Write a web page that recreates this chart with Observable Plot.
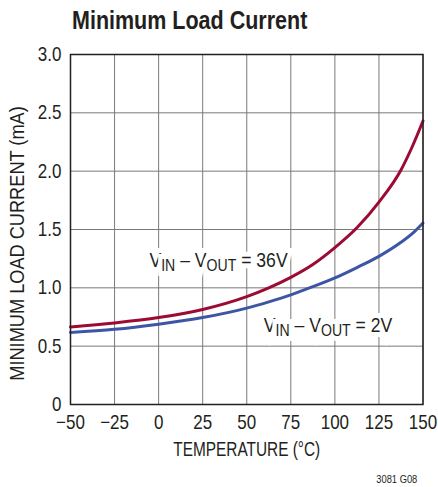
<!DOCTYPE html>
<html>
<head>
<meta charset="utf-8">
<script src="https://cdn.jsdelivr.net/npm/d3@7"></script>
<script src="https://cdn.jsdelivr.net/npm/@observablehq/plot@0.6"></script>
<style>
  html, body { margin: 0; padding: 0; background: #fff; }
  #wrap { position: relative; width: 438px; height: 487px; overflow: hidden;
          font-family: "Liberation Sans", Arial, sans-serif; color: #231f20; }
  #title { position: absolute; left: 72px; top: 5px; font-size: 25px; font-weight: bold; line-height: 30px;
           white-space: nowrap; transform: scaleX(0.86); transform-origin: left center; }
  #chart { position: absolute; left: 0; top: 40px; }
  #caption { position: absolute; right: 21px; top: 472px; font-size: 11px; line-height: 14px;
             transform: scaleX(0.85); transform-origin: right center; }
</style>
</head>
<body>
<div id="wrap">
  <div id="title">Minimum Load Current</div>
  <div id="chart"></div>
  <div id="caption">3081 G08</div>
</div>
<script>
// Curves: temperature (°C) and current (mA)
const temp36 = [-50, -25, 0, 25, 50, 62.5, 75, 87.5, 100, 112.5, 125, 137.5, 143.75, 150];
const curr36 = [0.665, 0.699, 0.745, 0.815, 0.925, 1.0, 1.09, 1.20, 1.345, 1.515, 1.735, 2.01, 2.205, 2.43];
const temp2 = [-50, -25, 0, 25, 50, 62.5, 75, 87.5, 100, 112.5, 125, 137.5, 145, 150];
const curr2 = [0.618, 0.644, 0.688, 0.745, 0.826, 0.88, 0.94, 1.01, 1.085, 1.174, 1.27, 1.39, 1.48, 1.556];

const xTicks = [-50, -25, 0, 25, 50, 75, 100, 125, 150];
const yTicks = [0, 0.5, 1.0, 1.5, 2.0, 2.5, 3.0];

const labelText = ["V_IN – V_OUT = 36V", "V_IN – V_OUT = 2V"];
const labelX = [-5.2, 59.7];
const labelY = [1.179, 0.62];

const xLabel = "TEMPERATURE (°C)";
const yLabel = "MINIMUM LOAD CURRENT (mA)";

const red = "#9b0b34";
const blue = "#3c55a5";
const ink = "#231f20";
const font = '"Liberation Sans", Arial, sans-serif';

const s36 = temp36.map((t, i) => ({t, c: curr36[i]}));
const s2 = temp2.map((t, i) => ({t, c: curr2[i]}));
const labels = labelText.map((s, i) => ({s, x: labelX[i], y: labelY[i]}));

const fmtX = d => d < 0 ? "−" + Math.abs(d) : String(d);
const fmtY = d => d === 0 ? "0" : d.toFixed(1);

const plot = Plot.plot({
  width: 438,
  height: 430,
  marginTop: 14,
  marginBottom: 66,
  marginLeft: 70,
  marginRight: 15.5,
  style: {fontFamily: font, fontSize: "20px", color: ink, background: "transparent"},
  x: {domain: [-50, 150]},
  y: {domain: [0, 3]},
  marks: [
    Plot.ruleX(xTicks, {stroke: "#7a7a7a", strokeWidth: 1}),
    Plot.ruleY(yTicks, {stroke: "#7a7a7a", strokeWidth: 1}),
    Plot.text(labels, {x: "x", y: "y", text: "s", textAnchor: "start", lineAnchor: "bottom",
      fontSize: 20, fill: ink, stroke: "white", strokeWidth: 10, strokeLinejoin: "miter"}),
    Plot.line(s2, {x: "t", y: "c", stroke: blue, strokeWidth: 3, curve: "monotone-x"}),
    Plot.line(s36, {x: "t", y: "c", stroke: red, strokeWidth: 3, curve: "monotone-x"}),
    Plot.frame({stroke: ink, strokeWidth: 1.5}),
    Plot.axisX({ticks: xTicks, tickSize: 0, tickPadding: 10, label: null, tickFormat: fmtX, fill: ink}),
    Plot.axisY({ticks: yTicks, tickSize: 0, tickPadding: 9, label: null, tickFormat: fmtY, fill: ink}),
    Plot.text([xLabel], {frameAnchor: "bottom", dy: 45, textAnchor: "middle", lineAnchor: "middle", fontSize: 20, fill: ink}),
    Plot.text([yLabel], {frameAnchor: "left", rotate: -90, dx: -53, dy: 14, textAnchor: "middle", lineAnchor: "middle", fontSize: 20, fill: ink})
  ]
});

// subscripts: "_XX" segments become lowered, smaller tspans
plot.querySelectorAll("text").forEach(t => {
  const s = t.textContent;
  if (!s.includes("_")) return;
  while (t.firstChild) t.removeChild(t.firstChild);
  const parts = s.split(/(_[A-Z]+)/).filter(p => p);
  let lowered = false;
  parts.forEach(p => {
    const ts = document.createElementNS("http://www.w3.org/2000/svg", "tspan");
    if (p.startsWith("_")) {
      ts.textContent = p.slice(1);
      ts.setAttribute("font-size", "16");
      ts.setAttribute("dy", "4");
      lowered = true;
    } else {
      ts.textContent = p;
      if (lowered) { ts.setAttribute("dy", "-4"); lowered = false; }
    }
    t.appendChild(ts);
  });
});

// condensed look: horizontal squeeze of each text around its anchor
const squeeze = new Map([[xLabel, 0.77], [yLabel, 0.91]]);
plot.querySelectorAll("text").forEach(t => {
  const s = t.textContent;
  let sx = squeeze.get(s);
  if (sx === undefined) sx = s.startsWith("VIN") ? 0.88 : 0.85;
  const tr = t.getAttribute("transform") || "";
  const x = +(t.getAttribute("x") || 0), y = +(t.getAttribute("y") || 0);
  if (x || y) t.setAttribute("transform", `${tr} translate(${x},${y}) scale(${sx},1) translate(${-x},${-y})`);
  else t.setAttribute("transform", `${tr} scale(${sx},1)`);
});

document.getElementById("chart").appendChild(plot);
</script>
</body>
</html>
